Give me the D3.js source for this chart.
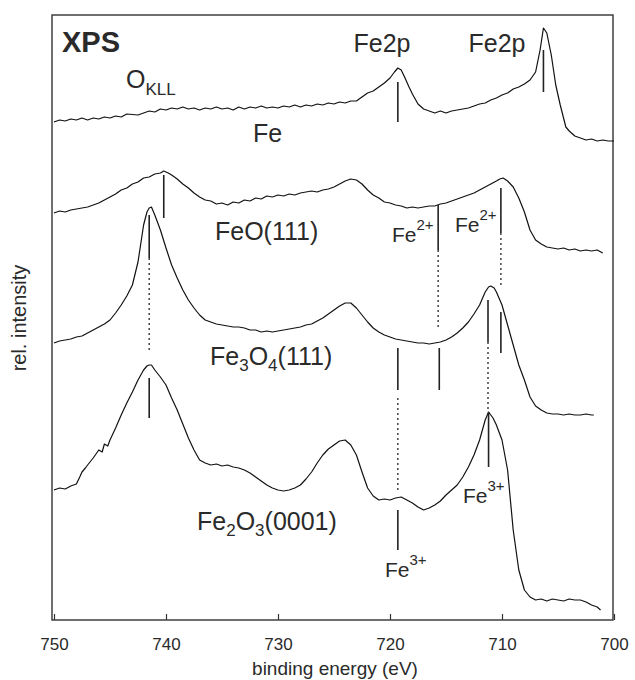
<!DOCTYPE html>
<html>
<head>
<meta charset="utf-8">
<script src="https://cdn.jsdelivr.net/npm/d3@7"></script>
<style>
  body { margin: 0; background: #fff; }
  text { font-family: "Liberation Sans", Arial, sans-serif; fill: #2a2a2a; }
</style>
</head>
<body>
<script>
var width = 635,
  height = 680;

// binding energy (eV) vs rel. intensity (arb. units)
var spectrumFe = [[750,498],[749.5,500],[749,499],[748.5,501],[748,500],[747.5,502],[747,500],[746.5,502],[746,501],[745.5,503],[745,502],[744.5,504],[744,503],[743.5,506],[742.5,505],[742,507],[741.5,509],[741,508],[740.5,511],[740,510],[739.5,512],[739,511],[738.5,513],[738,511],[737.5,512],[737,510],[736.5,512],[736,511],[735.5,513],[735,511],[734.5,512],[734,510],[733.5,513],[733,511],[732.5,513],[732,512],[731.5,514],[731,512],[730.5,513],[730,512],[729.5,514],[729,513],[728.5,515],[728,513],[727.5,515],[727,514],[726.5,516],[726,515],[725.5,517],[725,516],[724.5,518],[724,517],[723.5,519],[723,519],[722.5,523],[722,527],[721.5,529],[721,533],[720.5,537],[720,542],[719.6,548],[719.3,552],[719,550],[718.7,543],[718.3,533],[718,526],[717.5,516],[717,511],[716.5,509],[716,507],[715.5,509],[715,507],[714.5,509],[714,510],[713.5,511],[713,512],[712.5,514],[712,516],[711.5,517],[711,520],[710.5,522],[710,525],[709.5,527],[709,531],[708.5,533],[708,536],[707.5,540],[707,548],[706.6,570],[706.3,592],[706,587],[705.6,565],[705.2,535],[704.8,515],[704.3,493],[704,489],[703.5,484],[703,482],[702.5,480],[702,481],[701.5,479],[701,480],[700.5,479],[700,479]];

var spectrumFeO = [[750,407],[749.5,409],[749,408],[748.5,410],[748,411],[747.5,412],[747,413],[746.5,415],[746,417],[745.5,420],[745,423],[744.5,426],[744,430],[743.5,432],[743,436],[742.5,438],[742,442],[741.5,443],[741,446],[740.5,447],[740.2,449],[739.8,447],[739.5,445],[739,441],[738.5,436],[738,432],[737.5,427],[737,423],[736.5,420],[736,419],[735.5,416],[735,417],[734.5,415],[734,418],[733.5,417],[733,420],[732.5,419],[732,422],[731.5,421],[731,424],[730.5,423],[730,425],[729.5,424],[729,426],[728.5,425],[728,427],[727.5,428],[727,429],[726.5,428],[726,430],[725.5,431],[725,433],[724.5,436],[724,439],[723.5,441],[723,440],[722.5,436],[722,430],[721.5,425],[721,422],[720.5,418],[720,417],[719.5,415],[719,414],[718.5,412],[718,413],[717.5,412],[717,413],[716.5,414],[716,414],[715.5,416],[715,417],[714.5,419],[714,421],[713.5,423],[713,425],[712.5,427],[712,430],[711.5,433],[711,436],[710.5,439],[710.2,441],[709.9,442],[709.5,439],[709,433],[708.5,422],[708,408],[707.5,390],[707,380],[706.5,376],[706,373],[705.5,372],[705,371],[704.5,372],[704,370],[703.5,371],[703,369],[702.5,370],[702,369],[701.5,370],[701,367]];

var spectrumFe3O4 = [[750,277],[749.5,279],[749,280],[748.5,281],[748,283],[747.5,284],[747,287],[746.5,290],[746,293],[745.5,296],[745,300],[744.5,307],[744,315],[743.5,324],[743,335],[742.5,358],[742,395],[741.7,408],[741.5,412],[741.3,413],[741,405],[740.5,390],[740,372],[739.5,355],[739,342],[738.5,330],[738,320],[737.5,312],[737,305],[736.5,300],[736,298],[735.5,296],[735,295],[734.5,294],[734,293],[733.5,293],[733,292],[732.5,290],[732,290],[731.5,288],[731,289],[730.5,288],[730,289],[729.5,290],[729,291],[728.5,292],[728,293],[727.5,295],[727,296],[726.5,299],[726,302],[725.5,306],[725,310],[724.5,314],[724,317],[723.5,317],[723,312],[722.5,305],[722,298],[721.5,292],[721,288],[720.5,285],[720,283],[719.5,281],[719,280],[718.5,279],[718,278],[717.5,277],[717,277],[716.5,276],[716,277],[715.5,278],[715,280],[714.5,283],[714,287],[713.5,292],[713,298],[712.5,306],[712,315],[711.5,328],[711.2,333],[711,334],[710.7,332],[710.5,328],[710,315],[709.5,295],[709,275],[708.5,255],[708,240],[707.5,223],[707,214],[706.5,210],[706,207],[705.5,206],[705,206],[704.5,205],[704,206],[703.5,205],[703,205],[702.5,206],[702,205],[701.8,205]];

var spectrumFe2O3 = [[750,130],[749.5,132],[749,131],[748.5,134],[748,136],[747.7,143],[747.5,148],[747.2,152],[747,155],[746.5,162],[746,170],[745.7,168],[745.5,176],[745.2,174],[745,180],[744.5,192],[744,205],[743.5,217],[743,228],[742.5,240],[742,250],[741.7,254],[741.5,255],[741.3,255],[741,250],[740.5,243],[740,235],[739.5,222],[739,210],[738.5,196],[738,182],[737.5,170],[737,160],[736.5,157],[736,155],[735.5,156],[735,154],[734.5,155],[734,153],[733.5,152],[733,150],[732.5,147],[732,143],[731.5,139],[731,135],[730.5,132],[730,130],[729.5,129],[729,130],[728.5,132],[728,135],[727.5,141],[727,148],[726.5,157],[726,165],[725.5,171],[725,175],[724.5,179],[724,180],[723.5,175],[723,165],[722.5,148],[722,132],[721.5,124],[721,120],[720.5,121],[720,120],[719.5,122],[719,123],[718.5,120],[718,117],[717.5,113],[717,110],[716.5,112],[716,115],[715.5,119],[715,125],[714.5,130],[714,135],[713.5,143],[713,153],[712.5,165],[712,180],[711.5,200],[711.2,208],[710.8,202],[710.5,195],[710,180],[709.5,150],[709,90],[708.5,50],[708,30],[707.5,23],[707,20],[706.5,21],[706,19],[705.5,21],[705,20],[704.5,19],[704,21],[703.5,20],[703,20],[702.5,18],[702,15],[701.5,13],[701.2,10]];

var spectra = [spectrumFe, spectrumFeO, spectrumFe3O4, spectrumFe2O3];

// peak markers: [energy, top, bottom]
var solidMarks = [[719.3,538,498],[706.3,570,528],[740.2,445,402],[715.7,415,370],[710.1,432,387],
  [741.5,405,362],[719.3,272,230],[715.6,272,230],[711.25,320,278],[710.1,308,267],
  [741.5,242,202],[711.2,208,153],[719.3,110,70]];
var dottedMarks = [[715.7,370,293],[710.1,387,335],[741.5,362,270],[711.25,278,210],[719.3,222,130]];

var xTicks = [750, 740, 730, 720, 710, 700];

var x = d3.scaleLinear().domain([750, 700]).range([54, 614]);
var y = d3.scaleLinear().domain([0, 605]).range([620, 15]);

var svg = d3.select('body').append('svg')
  .attr('width', width)
  .attr('height', height);

// frame
svg.append('rect')
  .attr('x', 52).attr('y', 15)
  .attr('width', 561).attr('height', 605)
  .attr('fill', 'none')
  .attr('stroke', '#333')
  .attr('stroke-width', 1.4);

var xAxis = d3.axisBottom(x)
  .tickValues(xTicks)
  .tickSizeInner(-6)
  .tickSizeOuter(0)
  .tickPadding(18)
  .tickFormat(d3.format('d'));

var gx = svg.append('g')
  .attr('transform', 'translate(0,620)')
  .call(xAxis);
gx.select('.domain').remove();
gx.selectAll('.tick line').attr('stroke', '#333').attr('stroke-width', 1.2);
gx.selectAll('.tick text')
  .style('font-size', '17px')
  .attr('fill', '#2a2a2a');

svg.append('text')
  .attr('x', 335).attr('y', 675)
  .attr('text-anchor', 'middle')
  .style('font-size', '19px')
  .text('binding energy (eV)');

svg.append('text')
  .attr('transform', 'translate(26,318) rotate(-90)')
  .attr('text-anchor', 'middle')
  .style('font-size', '20px')
  .text('rel. intensity');

var line = d3.line()
  .x(function(d) { return x(d[0]); })
  .y(function(d) { return y(d[1]); });

svg.append('g')
  .selectAll('path')
  .data(spectra)
  .enter().append('path')
    .attr('d', line)
    .attr('fill', 'none')
    .attr('stroke', '#111')
    .attr('stroke-width', 1.2)
    .attr('stroke-linejoin', 'round');

svg.append('g')
  .selectAll('line')
  .data(solidMarks)
  .enter().append('line')
    .attr('x1', function(d) { return x(d[0]); })
    .attr('x2', function(d) { return x(d[0]); })
    .attr('y1', function(d) { return y(d[1]); })
    .attr('y2', function(d) { return y(d[2]); })
    .attr('stroke', '#222')
    .attr('stroke-width', 1.6);

svg.append('g')
  .selectAll('line')
  .data(dottedMarks)
  .enter().append('line')
    .attr('x1', function(d) { return x(d[0]); })
    .attr('x2', function(d) { return x(d[0]); })
    .attr('y1', function(d) { return y(d[1]); })
    .attr('y2', function(d) { return y(d[2]); })
    .attr('stroke', '#333')
    .attr('stroke-width', 1.4)
    .attr('stroke-dasharray', '2,3');

// labels
function label(px, py, size, parts, anchor) {
  var t = svg.append('text')
    .attr('x', px).attr('y', py)
    .attr('text-anchor', anchor || 'start')
    .style('font-size', size + 'px');
  parts.forEach(function(p) {
    t.append('tspan')
      .attr('dy', p[1])
      .style('font-size', (p[2] || size) + 'px')
      .text(p[0]);
  });
  return t;
}

label(62, 52, 29, [['XPS', 0]]).style('font-weight', 'bold');
label(126, 88, 25, [['O', 0], ['KLL', 7, 17]]);
label(382, 52, 25, [['Fe2p', 0]], 'middle');
label(497, 52, 25, [['Fe2p', 0]], 'middle');
label(253, 142, 25, [['Fe', 0]]);
label(215, 240, 25, [['FeO(111)', 0]]);
label(392, 242, 21, [['Fe', 0], ['2+', -12, 15]]);
label(455, 232, 21, [['Fe', 0], ['2+', -12, 15]]);
label(210, 365, 25, [['Fe', 0], ['3', 6, 17], ['O', -6], ['4', 6, 17], ['(111)', -6]]);
label(197, 530, 25, [['Fe', 0], ['2', 6, 17], ['O', -6], ['3', 6, 17], ['(0001)', -6]]);
label(463, 503, 21, [['Fe', 0], ['3+', -12, 15]]);
label(385, 577, 21, [['Fe', 0], ['3+', -12, 15]]);
</script>
</body>
</html>
